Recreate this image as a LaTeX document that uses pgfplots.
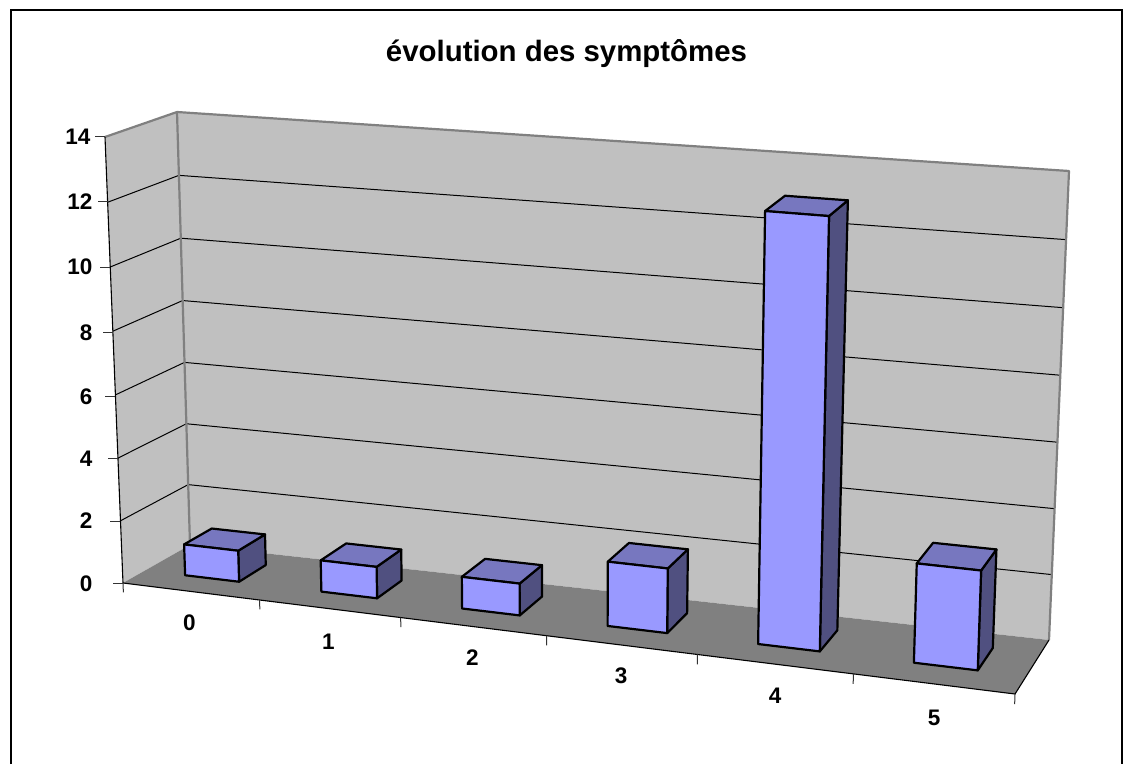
\documentclass[border=0pt]{standalone}
\usepackage{pgfplots}
\pgfplotsset{compat=1.18}
\usepackage{fontspec}
\setmainfont{Liberation Sans}
\definecolor{barfront}{HTML}{9999FF}
\definecolor{bartop}{HTML}{7777BF}
\definecolor{barside}{HTML}{505080}
\definecolor{wall}{HTML}{C0C0C0}
\definecolor{floorc}{HTML}{808080}
% Projection of the 3-D chart box: u = category axis (0..6), d = depth (0..1), z = value (0..14)
\pgfplotsset{
  /pgf/declare function={
    tt(\a)=(\a/6)*0.904/(1-0.016*\a);
    ff(\c)=(\c/14)*0.9724/(1-0.0276*\c/14);
    pxz(\a,\b)=(1-\b)*(123+892*tt(\a))+\b*(190+859*tt(\a));
    pxt(\a,\b)=(1-\b)*(105+927*tt(\a))+\b*(177+892*tt(\a));
    pyz(\a,\b)=(1-\b)*(583+111*tt(\a))+\b*(545+95*tt(\a));
    pyt(\a,\b)=(1-\b)*(137+74*tt(\a))+\b*(112+59*tt(\a));
    px(\a,\b,\c)=pxz(\a,\b)+(pxt(\a,\b)-pxz(\a,\b))*ff(\c);
    py(\a,\b,\c)=pyz(\a,\b)+(pyt(\a,\b)-pyz(\a,\b))*ff(\c);
  },
  box/.style={table/row sep=\\,table/x expr={px(\thisrow{u},\thisrow{d},\thisrow{z})},table/y expr={py(\thisrow{u},\thisrow{d},\thisrow{z})}},
}
% #1 left, #2 right of the bar on the category axis, #3 its value
\newcommand\drawbar[3]{%
  \addplot[fill=barside,draw=black,line width=2.2pt,line join=round,box] table {u d z\\ #2 0.33 0\\ #2 0.75 0\\ #2 0.75 #3\\ #2 0.33 #3\\} -- cycle;
  \addplot[fill=bartop,draw=black,line width=2.2pt,line join=round,box] table {u d z\\ #1 0.33 #3\\ #2 0.33 #3\\ #2 0.75 #3\\ #1 0.75 #3\\} -- cycle;
  \addplot[fill=barfront,draw=black,line width=2.2pt,line join=round,box] table {u d z\\ #1 0.33 0\\ #2 0.33 0\\ #2 0.33 #3\\ #1 0.33 #3\\} -- cycle;
}
% grid line at value #1, over the side wall and the back wall
\newcommand\gridl[1]{%
  \addplot[black,line width=1pt,box] table {u d z\\ 0 0 #1\\ 0 1 #1\\ 6 1 #1\\};
}
\newcommand\xtickm[1]{%
  \addplot[black!80,line width=1pt,box] table {u d z\\ #1 0 0\\ #1 0 -0.3\\};
}
\begin{document}
\begin{tikzpicture}
\begin{axis}[
  scale only axis,width=1129pt,height=764pt,
  xmin=0,xmax=1129,ymin=0,ymax=764,y dir=reverse,
  hide axis,clip=false,no markers,
  every axis plot/.append style={forget plot,sharp plot},
]
\path (axis cs:0,0) rectangle (axis cs:1129,764);
% outer frame
\addplot[black,line width=1.4pt] coordinates {(10.8,764)(10.8,9.9)(1122,9.9)(1122,764)};
% walls and floor
\addplot[fill=wall,draw=none,box] table {u d z\\ 0 0 0\\ 0 1 0\\ 0 1 14\\ 0 0 14\\} -- cycle;
\addplot[fill=wall,draw=none,box] table {u d z\\ 0 1 0\\ 6 1 0\\ 6 1 14\\ 0 1 14\\} -- cycle;
\addplot[fill=floorc,draw=none,box] table {u d z\\ 0 0 0\\ 6 0 0\\ 6 1 0\\ 0 1 0\\} -- cycle;
\gridl{2}\gridl{4}\gridl{6}\gridl{8}\gridl{10}\gridl{12}
% wall edges
\addplot[floorc,line width=2.2pt,line join=round,box] table {u d z\\ 0 0 14\\ 0 1 14\\ 6 1 14\\ 6 1 0\\};
\addplot[floorc,line width=2.2pt,box] table {u d z\\ 0 1 14\\ 0 1 0\\};
% axis lines
\addplot[black,line width=1.1pt,box] table {u d z\\ 0 0 14\\ 0 0 0\\ 6 0 0\\ 6 1 0\\};
% ticks
\xtickm{0}\xtickm{1}\xtickm{2}\xtickm{3}\xtickm{4}\xtickm{5}\xtickm{6}
\addplot[black!80,line width=1pt] coordinates {(95,137)(105,137)};
\addplot[black!80,line width=1pt] coordinates {(98,202)(108,202)};
\addplot[black!80,line width=1pt] coordinates {(100,267)(110,267)};
\addplot[black!80,line width=1pt] coordinates {(103,332)(113,332)};
\addplot[black!80,line width=1pt] coordinates {(105,396)(115,396)};
\addplot[black!80,line width=1pt] coordinates {(108,458)(118,458)};
\addplot[black!80,line width=1pt] coordinates {(110,521)(120,521)};
\addplot[black!80,line width=1pt] coordinates {(113,583)(123,583)};
% bars: left, right, value
\drawbar{0.3}{0.7}{1}
\drawbar{1.3}{1.7}{1}
\drawbar{2.3}{2.7}{1}
\drawbar{3.3}{3.7}{2}
\drawbar{4.3}{4.7}{13}
\drawbar{5.3}{5.7}{3}
% text
\node[font=\bfseries\fontsize{29.4}{32}\selectfont,anchor=base] at (axis cs:566.5,62) {évolution des symptômes};
\begingroup
\def\tl#1#2#3{\node[font=\bfseries\fontsize{22.5}{24}\selectfont,anchor=mid east] at (axis cs:#1,#2) {#3};}
\tl{94}{142}{14}\tl{96}{207}{12}\tl{96}{272}{10}\tl{96}{338}{8}\tl{96}{402}{6}\tl{96}{464}{4}\tl{96}{526}{2}\tl{96}{589}{0}
\endgroup
\begingroup
\def\tx#1#2#3{\node[font=\bfseries\fontsize{22.5}{24}\selectfont,anchor=mid] at (axis cs:#1,#2) {#3};}
\tx{189.5}{628}{0}\tx{328.5}{647}{1}\tx{472.5}{663}{2}\tx{621}{681}{3}\tx{775}{701}{4}\tx{934}{723}{5}
\endgroup
\end{axis}
\end{tikzpicture}
\end{document}
